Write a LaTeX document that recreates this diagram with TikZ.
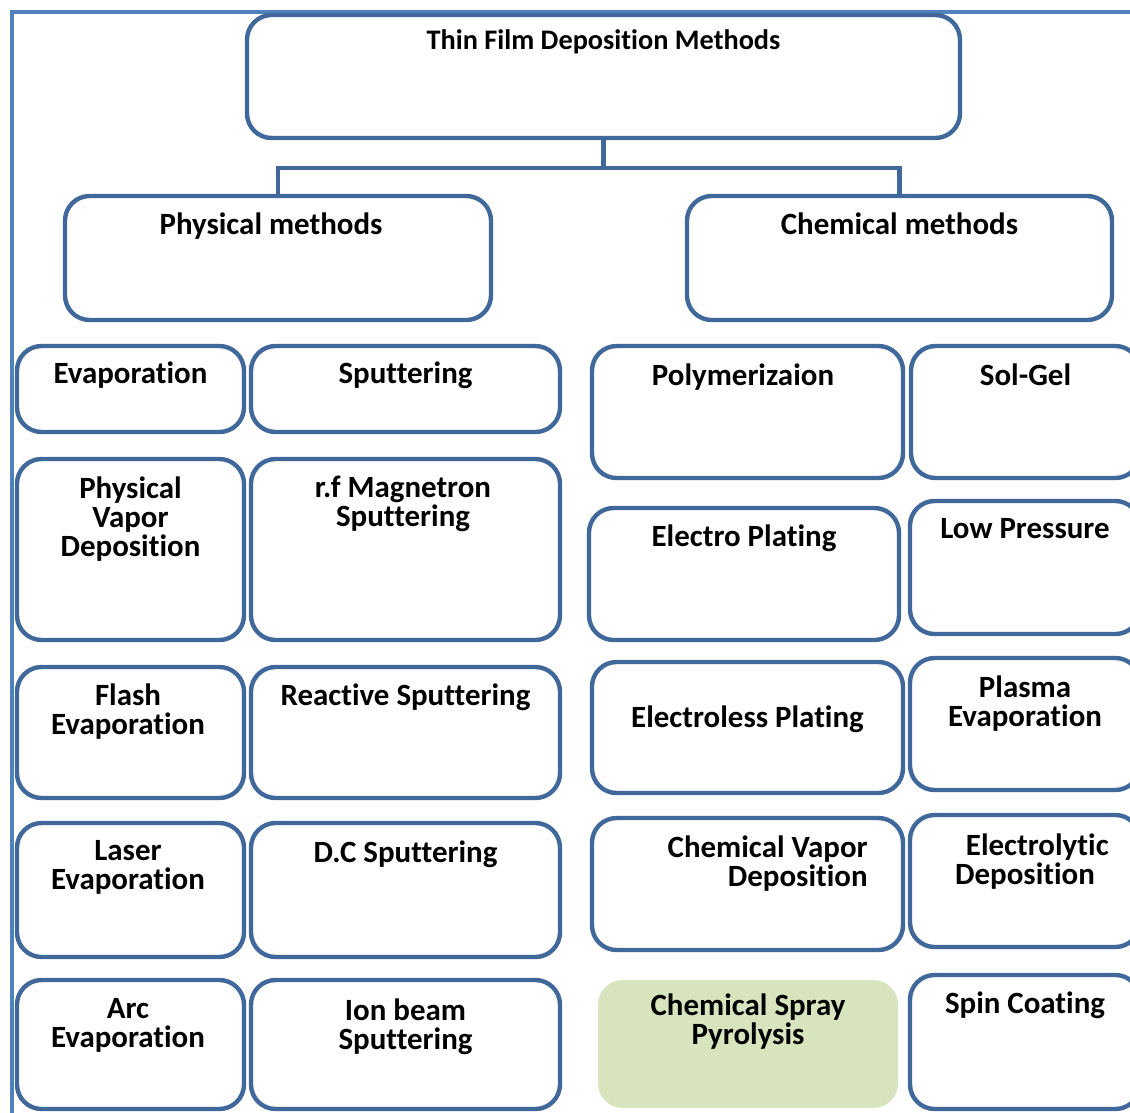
\documentclass[tikz,border=0pt]{standalone}
\usepackage{fontspec}
\setmainfont{Carlito}[Ligatures=NoCommon]
\usetikzlibrary{positioning,fit}
\definecolor{boxblue}{HTML}{41689A}
\definecolor{frameblue}{HTML}{4F81BD}
\definecolor{spraygreen}{HTML}{D7E4BD}

\begin{document}
\begin{tikzpicture}[x=0.02cm, y=-0.02cm,
            box/.style={draw=boxblue, line width=2.5pt, rounded corners=14pt, inner sep=0pt, outer sep=0pt},
            greenbox/.style={fill=spraygreen, rounded corners=14pt, inner sep=0pt, outer sep=0pt},
            txt/.style={font=\fontsize{17.6}{16.5}\selectfont\bfseries, align=center, inner sep=0pt, execute at begin node=\strut},
            conn/.style={draw=boxblue, line width=2.5pt}
        ]
            \useasboundingbox (0,0) rectangle (1130,1113);
            \clip (0,0) rectangle (1130,1113);

            % Frame
            \draw[frameblue, line width=2.7pt] (12,1140) -- (12,12) -- (1140,12);

            % Title
            \node[box, fit={(247,15) (960,138)}] (top) {};
            \node[txt, font=\fontsize{16.1}{16}\selectfont\bfseries, below=0.28cm of top.north] (topt) {Thin Film Deposition Methods};

            % Groups
            \node[box, fit={(65,196) (491,320)}] (phys) {};
            \node[txt, below=0.32cm of phys.north, xshift=-0.14cm] (physt) {Physical methods};
            \node[box, fit={(687,196) (1112,320)}] (chem) {};
            \node[txt, below=0.32cm of chem.north] (chemt) {Chemical methods};

            % Connectors
            \draw[conn] (top.south) -- ++(0,30) coordinate (split);
            \draw[conn] (split) -| (phys.north);
            \draw[conn] (split) -| (chem.north);

            % Physical methods
            \node[box, fit={(17,346) (244,432)}] (ev) {};
            \node[txt, below=0.30cm of ev.north] (evt) {Evaporation};
            \node[box, fit={(251,346) (560,432)}] (sp) {};
            \node[txt, below=0.30cm of sp.north] (spt) {Sputtering};

            \node[box, fit={(17,459) (244,640)}] (pvd) {};
            \node[txt, below=0.34cm of pvd.north] (pvdt) {Physical\\Vapor\\Deposition};
            \node[box, fit={(251,459) (560,640)}] (rf) {};
            \node[txt, below=0.34cm of rf.north, xshift=-0.05cm] (rft) {r.f Magnetron\\Sputtering};

            \node[box, fit={(17,667) (244,798)}] (fl) {};
            \node[txt, below=0.32cm of fl.north, xshift=-0.05cm] (flt) {Flash\\Evaporation};
            \node[box, fit={(251,667) (560,798)}] (rs) {};
            \node[txt, below=0.32cm of rs.north] (rst) {Reactive Sputtering};

            \node[box, fit={(17,823) (244,957)}] (la) {};
            \node[txt, below=0.34cm of la.north, xshift=-0.05cm] (lat) {Laser\\Evaporation};
            \node[box, fit={(251,823) (560,957)}] (dc) {};
            \node[txt, below=0.34cm of dc.north] (dct) {D.C Sputtering};

            \node[box, fit={(17,980) (244,1109)}] (arc) {};
            \node[txt, below=0.36cm of arc.north, xshift=-0.05cm] (arct) {Arc\\Evaporation};
            \node[box, fit={(251,980) (560,1109)}] (ion) {};
            \node[txt, below=0.36cm of ion.north] (iont) {Ion beam\\Sputtering};

            % Chemical methods
            \node[box, fit={(592,346) (903,478)}] (poly) {};
            \node[txt, below=0.34cm of poly.north, xshift=-0.09cm] (polyt) {Polymerizaion};
            \node[box, fit={(911,346) (1140,478)}] (sol) {};
            \node[txt, below=0.34cm of sol.north] (solt) {Sol-Gel};

            \node[box, fit={(589,508) (899,640)}] (ep) {};
            \node[txt, below=0.32cm of ep.north] (ept) {Electro Plating};
            \node[box, fit={(910,501) (1140,634)}] (lp) {};
            \node[txt, below=0.34cm of lp.north] (lpt) {Low Pressure};

            \node[box, fit={(592,662) (903,793)}] (elp) {};
            \node[txt, below=0.86cm of elp.north] (elpt) {Electroless Plating};
            \node[box, fit={(910,658) (1140,790)}] (pl) {};
            \node[txt, below=0.34cm of pl.north] (plt) {Plasma\\Evaporation};

            \node[box, fit={(592,818) (903,950)}] (cvd) {};
            \node[txt, align=right, below left=0.34cm and 0.7cm of cvd.north east] (cvdt) {Chemical Vapor\\Deposition};
            \node[box, fit={(910,815) (1140,947)}] (eld) {};
            \node[txt, below=0.36cm of eld.north] (eldt) {\hspace*{14pt}Electrolytic\\Deposition};

            \node[greenbox, fit={(598,980) (898,1108)}] (csp) {};
            \node[txt, below=0.26cm of csp.north] (cspt) {Chemical Spray\\Pyrolysis};
            \node[box, fit={(910,975) (1140,1109)}] (spin) {};
            \node[txt, below=0.32cm of spin.north] (spint) {Spin Coating};
        \end{tikzpicture}
\end{document}
